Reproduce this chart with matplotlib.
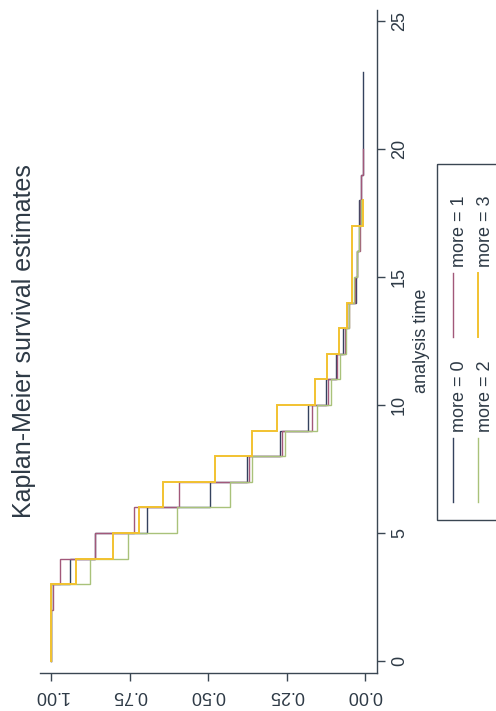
import numpy as np
import matplotlib
matplotlib.use('Agg')
import matplotlib.pyplot as plt

# Kaplan-Meier survival estimates by "more" (scanned Stata graph, rotated 90 deg)
plt.rcParams['font.family'] = ['Liberation Sans', 'DejaVu Sans']

# step times and survival after each step, one pair per group
t0 = [0, 3, 4, 5, 6, 7, 8, 9, 10, 11, 12, 13, 14, 15, 16, 17, 18, 19]
s0 = [1.0, 0.939, 0.860, 0.694, 0.494, 0.375, 0.272, 0.182, 0.124, 0.092, 0.070, 0.057,
      0.029, 0.025, 0.018, 0.018, 0.014, 0.005]
end0 = 23

t1 = [0, 2, 3, 4, 5, 6, 7, 8, 9, 10, 11, 12, 13, 14, 15, 16, 17, 18, 19]
s1 = [1.0, 0.995, 0.971, 0.860, 0.736, 0.592, 0.370, 0.265, 0.169, 0.118, 0.088, 0.064,
      0.050, 0.033, 0.027, 0.016, 0.016, 0.012, 0.005]
end1 = 20

t2 = [0, 3, 4, 5, 6, 7, 8, 9, 10, 11, 12, 13, 14, 15, 16, 17]
s2 = [1.0, 0.876, 0.755, 0.599, 0.430, 0.360, 0.255, 0.153, 0.110, 0.080, 0.060, 0.052,
      0.036, 0.025, 0.018, 0.012]
end2 = 18

t3 = [0, 3, 4, 5, 6, 7, 8, 9, 10, 11, 12, 13, 14, 17]
s3 = [1.0, 0.920, 0.803, 0.720, 0.643, 0.478, 0.360, 0.280, 0.159, 0.121, 0.083, 0.057,
      0.041, 0.008]
end3 = 18

labels = ['more = 0', 'more = 1', 'more = 2', 'more = 3']
colors = ['#34425e', '#a2587a', '#a9c27a', '#f2c230']
widths = [1.0, 1.0, 1.0, 1.4]

surv_ticks = [0, 0.25, 0.5, 0.75, 1.0]
time_ticks = [0, 5, 10, 15, 20, 25]

txt = '#2e3a46'
W, H = 496, 711


def km_path(t, s, t_end):
    # survival on x, time on y: each level held until the next step time
    xs, ys = [], []
    for i in range(len(t)):
        t_next = t[i + 1] if i + 1 < len(t) else t_end
        xs += [s[i], s[i]]
        ys += [t[i], t_next]
    return xs, ys


fig = plt.figure(figsize=(W / 100, H / 100), dpi=100)
ax = fig.add_axes([40 / W, 38 / H, 337 / W, 663 / H])

groups = [(t0, s0, end0), (t1, s1, end1), (t2, s2, end2), (t3, s3, end3)]
for (t, s, e), c, lw in zip(groups, colors, widths):
    xs, ys = km_path(t, s, e)
    ax.plot(xs, ys, color=c, lw=lw, solid_joinstyle='miter')

ax.set_xlim(1.035, -0.038)
ax.set_ylim(-0.47, 25.43)
for side in ['top', 'left']:
    ax.spines[side].set_visible(False)
for side in ['bottom', 'right']:
    ax.spines[side].set_color('#3a4652')
    ax.spines[side].set_linewidth(1.0)

ax.set_xticks(surv_ticks)
ax.set_xticklabels(['%.2f' % v for v in surv_ticks])
ax.yaxis.tick_right()
ax.set_yticks(time_ticks)
ax.set_yticklabels([str(v) for v in time_ticks])
ax.tick_params(axis='x', direction='out', length=6, width=1, color='#3a4652',
               labelsize=13, labelcolor=txt, labelrotation=180, pad=4)
ax.tick_params(axis='y', direction='out', length=6, width=1, color='#3a4652',
               labelsize=13, labelcolor=txt, labelrotation=90, pad=4)
for lab in ax.get_yticklabels():
    lab.set_va('center')

# overlay in pixel coordinates for title, axis title and legend
ov = fig.add_axes([0, 0, 1, 1])
ov.set_xlim(0, W)
ov.set_ylim(H, 0)
ov.axis('off')
ov.patch.set_alpha(0)

ov.text(24, 341, 'Kaplan-Meier survival estimates', rotation=90, ha='center',
        va='center', fontsize=18, color=txt)
ov.text(421, 341, 'analysis time', rotation=90, ha='center', va='center',
        fontsize=13, color=txt)

ov.add_patch(plt.Rectangle((437, 164), 100, 356, fill=False, ec='#3a4652', lw=1.0))
col_x = [453, 478]
key_y = [(502, 438), (337, 273)]
text_y = [432, 267]
for i, (lab, c, lw) in enumerate(zip(labels, colors, widths)):
    col = i // 2
    row = i % 2
    x = col_x[col]
    ov.plot([x, x], key_y[row], color=c, lw=lw)
    ov.text(x + 7, text_y[row], lab, rotation=90, ha='center', va='bottom',
            fontsize=13, color=txt)

fig.savefig('out.png', dpi=100)
